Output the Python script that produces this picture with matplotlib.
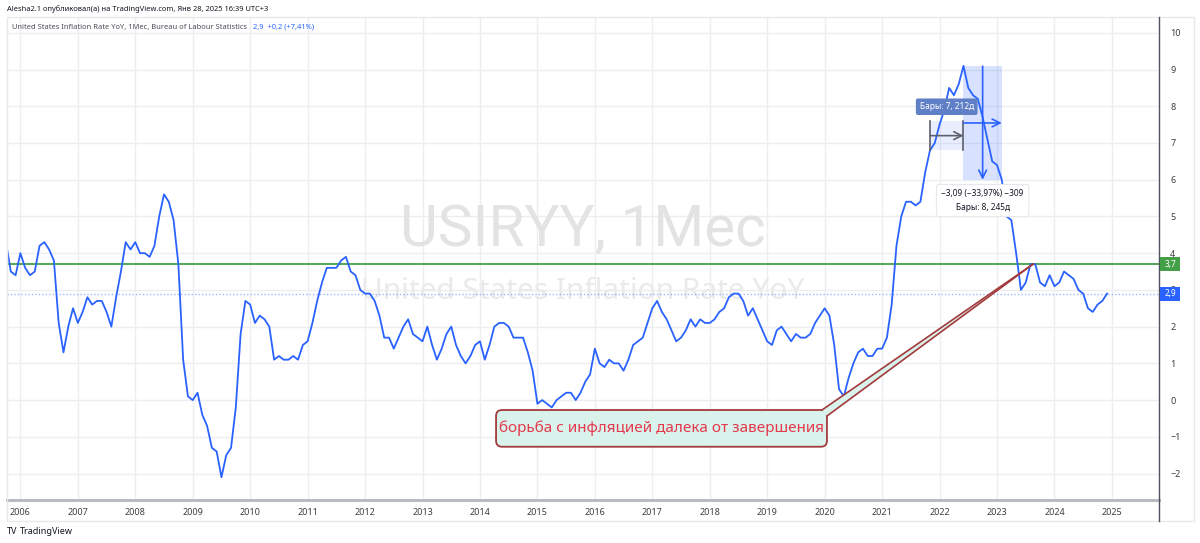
import numpy as np
import matplotlib
matplotlib.use("Agg")
import matplotlib.pyplot as plt
import matplotlib.transforms as mtransforms
from matplotlib.patches import FancyBboxPatch, Polygon, Rectangle
from matplotlib.lines import Line2D

plt.rcParams['font.family'] = ['Noto Sans', 'DejaVu Sans']

# ---------------- data: United States Inflation Rate YoY, %, monthly ----------------
first_month = 2005 + 9 / 12          # Oct 2005
cpi_2005 = [4.3, 3.5, 3.4]
cpi_2006 = [4.0, 3.6, 3.4, 3.5, 4.2, 4.3, 4.1, 3.8, 2.1, 1.3, 2.0, 2.5]
cpi_2007 = [2.1, 2.4, 2.8, 2.6, 2.7, 2.7, 2.4, 2.0, 2.8, 3.5, 4.3, 4.1]
cpi_2008 = [4.3, 4.0, 4.0, 3.9, 4.2, 5.0, 5.6, 5.4, 4.9, 3.7, 1.1, 0.1]
cpi_2009 = [0.0, 0.2, -0.4, -0.7, -1.3, -1.4, -2.1, -1.5, -1.3, -0.2, 1.8, 2.7]
cpi_2010 = [2.6, 2.1, 2.3, 2.2, 2.0, 1.1, 1.2, 1.1, 1.1, 1.2, 1.1, 1.5]
cpi_2011 = [1.6, 2.1, 2.7, 3.2, 3.6, 3.6, 3.6, 3.8, 3.9, 3.5, 3.4, 3.0]
cpi_2012 = [2.9, 2.9, 2.7, 2.3, 1.7, 1.7, 1.4, 1.7, 2.0, 2.2, 1.8, 1.7]
cpi_2013 = [1.6, 2.0, 1.5, 1.1, 1.4, 1.8, 2.0, 1.5, 1.2, 1.0, 1.2, 1.5]
cpi_2014 = [1.6, 1.1, 1.5, 2.0, 2.1, 2.1, 2.0, 1.7, 1.7, 1.7, 1.3, 0.8]
cpi_2015 = [-0.1, 0.0, -0.1, -0.2, 0.0, 0.1, 0.2, 0.2, 0.0, 0.2, 0.5, 0.7]
cpi_2016 = [1.4, 1.0, 0.9, 1.1, 1.0, 1.0, 0.8, 1.1, 1.5, 1.6, 1.7, 2.1]
cpi_2017 = [2.5, 2.7, 2.4, 2.2, 1.9, 1.6, 1.7, 1.9, 2.2, 2.0, 2.2, 2.1]
cpi_2018 = [2.1, 2.2, 2.4, 2.5, 2.8, 2.9, 2.9, 2.7, 2.3, 2.5, 2.2, 1.9]
cpi_2019 = [1.6, 1.5, 1.9, 2.0, 1.8, 1.6, 1.8, 1.7, 1.7, 1.8, 2.1, 2.3]
cpi_2020 = [2.5, 2.3, 1.5, 0.3, 0.1, 0.6, 1.0, 1.3, 1.4, 1.2, 1.2, 1.4]
cpi_2021 = [1.4, 1.7, 2.6, 4.2, 5.0, 5.4, 5.4, 5.3, 5.4, 6.2, 6.8, 7.0]
cpi_2022 = [7.5, 7.9, 8.5, 8.3, 8.6, 9.1, 8.5, 8.3, 8.2, 7.7, 7.1, 6.5]
cpi_2023 = [6.4, 6.0, 5.0, 4.9, 4.0, 3.0, 3.2, 3.7, 3.7, 3.2, 3.1, 3.4]
cpi_2024 = [3.1, 3.2, 3.5, 3.4, 3.3, 3.0, 2.9, 2.5, 2.4, 2.6, 2.7, 2.9]

year_ticks = list(range(2006, 2026))
value_ticks = list(range(-2, 11))
level_value = 3.7
level_label = "3,7"
last_label = "2,9"

header_text = "Alesha2.1 опубликовал(а) на TradingView.com, Янв 28, 2025 16:39 UTC+3"
legend_text = "United States Inflation Rate YoY, 1Мес, Bureau of Labour Statistics"
legend_value = "2,9  +0,2 (+7,41%)"
watermark_1 = "USIRYY, 1Мес"
watermark_2 = "United States Inflation Rate YoY"
callout_text = "борьба с инфляцией далека от завершения"
measure_long_label = "−3,09 (−33,97%) −309\nБары: 8, 245д"
measure_short_label = "Бары: 7, 212д"

# measure tools: (x_start, x_end, y_low, y_high)
measure_long = [2022 + 5 / 12, 2023 + 1 / 12, 6.0, 9.09]
measure_short = [2021 + 10 / 12, 2022 + 5 / 12, 6.8, 7.6]
# callout box (data units) and its target point
callout_box = [2014.28, 2020.04, -1.27, -0.27]
callout_target = [2023 + 7.5 / 12, 3.7]

series = (cpi_2005 + cpi_2006 + cpi_2007 + cpi_2008 + cpi_2009 + cpi_2010 + cpi_2011 +
          cpi_2012 + cpi_2013 + cpi_2014 + cpi_2015 + cpi_2016 + cpi_2017 + cpi_2018 +
          cpi_2019 + cpi_2020 + cpi_2021 + cpi_2022 + cpi_2023 + cpi_2024)
xs = first_month + np.arange(len(series)) / 12.0
last_value = series[-1]

# ---------------- figure ----------------
W, H = 1200, 543
fig = plt.figure(figsize=(W / 100, H / 100), dpi=100)
fig.patch.set_facecolor('white')

def fx(px):
    return px / W

def fy(py):
    return 1 - py / H

PL, PR, PT, PB = 7, 1159, 17, 500
ax = fig.add_axes([fx(PL), fy(PB), fx(PR) - fx(PL), fy(PT) - fy(PB)])
ax.set_xlim(2005.767, 2025.82)
ax.set_ylim(-2.72, 10.43)
ax.set_autoscale_on(False)

BLUE = '#2962ff'
ax.set_xticks(year_ticks)
ax.set_xticklabels([str(y) for y in year_ticks])
ax.set_yticks(value_ticks)
ax.grid(True, color='#eceef2', lw=1.0, zorder=0)
ax.set_axisbelow(True)
for s in ['top', 'left', 'right']:
    ax.spines[s].set_visible(False)
ax.spines['bottom'].set_color('#b8bbc2')
ax.spines['bottom'].set_linewidth(2.2)
ax.yaxis.tick_right()
ax.tick_params(axis='y', length=0, pad=8, labelsize=6.5, labelcolor='#3d3f45')
ax.tick_params(axis='x', length=0, pad=6, labelsize=6.5, labelcolor='#3d3f45')

# watermarks
ax.text(0.5, 0.559, watermark_1, transform=ax.transAxes, ha='center', va='center',
        fontsize=42, color='#e3e3e3', zorder=1, family=['Roboto', 'DejaVu Sans'])
ax.text(0.5, 0.431, watermark_2, transform=ax.transAxes, ha='center', va='center',
        fontsize=21.5, color='#eaeaea', zorder=1)

# level lines
ax.axhline(level_value, color='#43a047', lw=1.3, zorder=3)
ax.axhline(last_value, color=BLUE, lw=1.0, ls=(0, (1, 1.5)), alpha=0.45, zorder=3)

# main series
ax.plot(xs, series, color=BLUE, lw=1.3, zorder=5, solid_joinstyle='round')

ID = mtransforms.IdentityTransform()

def d2p(x, y):
    return ax.transData.transform((x, y))

# ---- measure tool (short, grey) ----
x0, x1, ylo, yhi = measure_short
ax.add_patch(Rectangle((x0, ylo), x1 - x0, yhi - ylo, fc=BLUE, alpha=0.10, ec='none', zorder=4))
ax.plot([x0, x0], [ylo, yhi], color='#5d606b', lw=1.2, zorder=6)
ax.plot([x1, x1], [ylo, yhi], color='#5d606b', lw=1.2, zorder=6)
ym = (ylo + yhi) / 2
ax.annotate('', xy=(x1, ym), xytext=(x0, ym),
            arrowprops=dict(arrowstyle='->', color='#5d606b', lw=1.2, mutation_scale=14,
                            shrinkA=0, shrinkB=0), zorder=6)
ax.annotate(measure_short_label, xy=((x0 + x1) / 2, yhi), xytext=(0, 7), textcoords='offset points',
            ha='center', va='bottom', fontsize=6, color='white', zorder=10,
            bbox=dict(boxstyle='round,pad=0.45,rounding_size=0.25', fc='#5f7fc6', ec='none'))

# ---- measure tool (long, blue) ----
x0, x1, ylo, yhi = measure_long
ax.add_patch(Rectangle((x0, ylo), x1 - x0, yhi - ylo, fc=BLUE, alpha=0.18, ec='none', zorder=4))
xm = (x0 + x1) / 2
ym = (ylo + yhi) / 2
ax.annotate('', xy=(xm, ylo), xytext=(xm, yhi),
            arrowprops=dict(arrowstyle='->', color=BLUE, lw=1.2, mutation_scale=14,
                            shrinkA=0, shrinkB=0), zorder=6)
ax.annotate('', xy=(x1, ym), xytext=(x0, ym),
            arrowprops=dict(arrowstyle='->', color=BLUE, lw=1.2, mutation_scale=14,
                            shrinkA=0, shrinkB=0), zorder=6)
ax.annotate(measure_long_label, xy=(xm, ylo), xytext=(0, -7), textcoords='offset points',
            ha='center', va='top', fontsize=6, color='#131722', zorder=10, linespacing=1.6,
            bbox=dict(boxstyle='round,pad=0.6,rounding_size=0.3', fc='white', ec='#e6e8ee', lw=0.8))

# ---- callout ----
cl, cr, cb, ct = callout_box
(bx0, by0) = d2p(cl, cb)
(bx1, by1) = d2p(cr, ct)
FILL = '#d9f2ec'
EDGE = '#a33a3c'
ax.add_patch(FancyBboxPatch((bx0, by0), bx1 - bx0, by1 - by0,
                            boxstyle='round,pad=0,rounding_size=6', transform=ID,
                            fc=FILL, ec=EDGE, lw=1.3, zorder=8))
tx, ty = d2p(*callout_target)
pa = (bx1 - 5, by1)
pb = (bx1, by1 - 6)
ax.add_patch(Polygon([pa, (tx, ty), pb], closed=True, transform=ID, fc=FILL, ec='none', zorder=8.5))
ax.add_line(Line2D([pa[0], tx], [pa[1], ty], transform=ID, color=EDGE, lw=1.2, zorder=8.6))
ax.add_line(Line2D([pb[0], tx], [pb[1], ty], transform=ID, color=EDGE, lw=1.2, zorder=8.6))
ax.text((cl + cr) / 2, (cb + ct) / 2, callout_text, ha='center', va='center',
        fontsize=11, color='#e5394d', zorder=9)

# ---- price tags on the right scale ----
for val, lab, col in [(level_value, level_label, '#43a047'), (last_value, last_label, BLUE)]:
    _, yd = d2p(2020, val)
    fig.patches.append(Rectangle((PR + 1, yd - 7), 20, 14, transform=ID, fc=col, ec='none', zorder=5))
    fig.text(fx(PR + 11), yd / H, lab, ha='center', va='center', fontsize=6, color='white',
             fontweight='bold', zorder=6)

# ---- frame of the chart panes ----
fig.add_artist(Line2D([fx(PR), fx(PR)], [fy(PT), fy(521)], transform=fig.transFigure,
                      color='#50535e', lw=1.0))
fig.patches.append(Rectangle((fx(PL), fy(521)), fx(1194) - fx(PL), fy(PT) - fy(521),
                             transform=fig.transFigure, fc='none', ec='#e8e9ec', lw=1.0))

# ---- header ----
fig.text(fx(7), fy(9), header_text, ha='left', va='center', fontsize=5.4, color='#131722')
leg = fig.text(fx(12), fy(27), legend_text, ha='left', va='center', fontsize=5.4, color='#4a4d57')
fig.canvas.draw()
bb = leg.get_window_extent()
fig.text((bb.x1 + 6) / W, fy(27), legend_value, ha='left', va='center', fontsize=5.4, color=BLUE)

# ---- logo ----
fig.text(fx(7), fy(531), "TV", ha='left', va='center', fontsize=6.5, fontweight='bold', color='#131722')
fig.text(fx(20), fy(531), "TradingView", ha='left', va='center', fontsize=6.5, color='#131722')

fig.savefig('out.png', dpi=100)
